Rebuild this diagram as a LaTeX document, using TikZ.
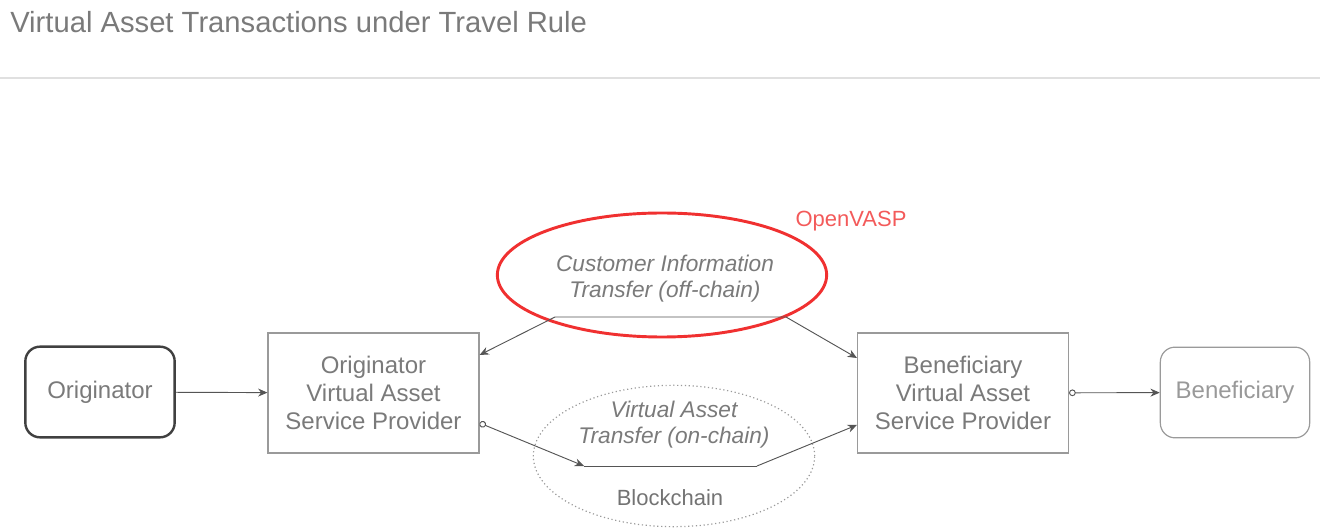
\documentclass[tikz,border=0pt]{standalone}
\usepackage{fontspec}
\setmainfont{Liberation Sans}
\usepackage{tikz}
\usetikzlibrary{arrows.meta,positioning,shapes.geometric}

\definecolor{linegray}{HTML}{555555}
\definecolor{boxgray}{HTML}{9A9A9A}
\definecolor{txtgray}{HTML}{7A7A7A}
\definecolor{vaspred}{HTML}{F03030}

\tikzset{
  vaspbox/.style={draw=boxgray, line width=1.1pt, minimum width=158pt, minimum height=90pt,
    align=center, text=txtgray, font=\fontsize{18}{21}\selectfont},
  personbox/.style={draw=boxgray, line width=0.9pt, rounded corners=11pt, minimum width=112pt,
    minimum height=68pt, text=black!40, font=\fontsize{18}{21}\selectfont},
  flowlabel/.style={align=center, text=txtgray, font=\fontsize{17}{19.5}\selectfont\itshape},
  flow/.style={draw=linegray, line width=0.7pt},
  tip/.style={-{Stealth[length=7pt,width=6pt]}}
}

\begin{document}
\begin{tikzpicture}[x=0.75pt,y=-0.75pt]
  \useasboundingbox (0,0) rectangle (1320,530);
  % title and rule
  \node[anchor=base west, inner sep=0, text=txtgray, font=\fontsize{21.9}{24}\selectfont] (title) at (10,33)
    {Virtual Asset Transactions under Travel Rule};
  \draw[black!12, line width=0.8pt] (0,78) -- (1320,78);

  % parties
  \node[personbox, draw=black!75, line width=1.8pt, text=txtgray] (originator) at (100,392) {Originator};
  \node[vaspbox] (oVASP) at (373.5,393) {Originator\\Virtual Asset\\Service Provider};
  \node[vaspbox] (bVASP) at (963,393) {Beneficiary\\Virtual Asset\\Service Provider};
  \node[personbox] (beneficiary) at (1235,392.5) {Beneficiary};

  % channels
  \node[ellipse, draw=vaspred, line width=2.2pt, minimum width=247pt, minimum height=93pt, inner sep=0] (openvasp) at (662,275) {};
  \node[text=vaspred!80, font=\fontsize{16.5}{19}\selectfont] (openvasplbl) at (851,221) {OpenVASP};
  \node[flowlabel] (offchain) at (665,279) {Customer Information\\Transfer (off-chain)};
  \node[ellipse, draw=boxgray, dotted, line width=0.9pt, minimum width=211pt, minimum height=106pt, inner sep=0] (blockchain) at (674,456) {};
  \node[flowlabel] (onchain) at (674,425) {Virtual Asset\\Transfer (on-chain)};
  \node[text=black!55, font=\fontsize{16.5}{19}\selectfont] (chainlbl) at (670,498) {Blockchain};

  \coordinate (offL) at (555,317);
  \coordinate (offR) at (786,317);
  \coordinate (onL) at (584,466);
  \coordinate (onR) at (757,466);

  % connectors
  \draw[flow, {Stealth[length=7pt,width=6pt]}-{Stealth[length=7pt,width=6pt]}]
    (oVASP.east |- 0,355) -- (offL) -- (offR) -- (bVASP.west |- 0,358);
  \draw[flow, {Circle[open,length=5pt]}-{Stealth[length=7pt,width=6pt]}] (oVASP.east |- 0,423) -- (onL);
  \draw[flow] (onL) -- (onR);
  \draw[flow, tip] (onR) -- (bVASP.west |- 0,425);
  \draw[flow, tip] (originator) -- (oVASP);
  \draw[flow, {Circle[open,length=5pt]}-{Stealth[length=7pt,width=6pt]}] (bVASP) -- (beneficiary);
\end{tikzpicture}
\end{document}
